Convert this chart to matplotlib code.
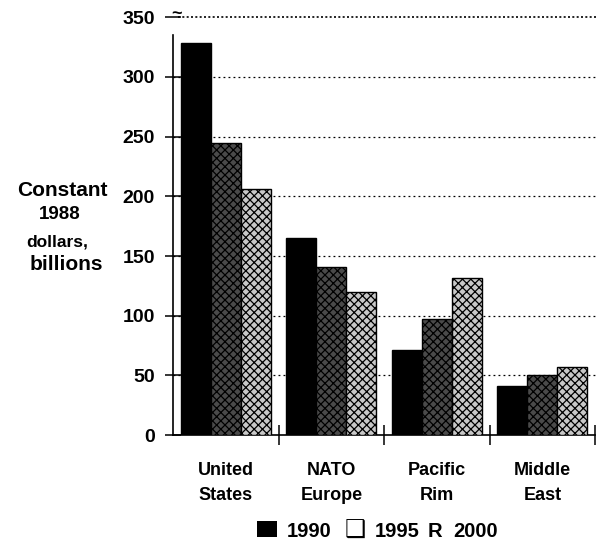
import numpy as np
import matplotlib
matplotlib.use("Agg")
import matplotlib.pyplot as plt
from matplotlib.patches import Rectangle

plt.rcParams['font.family'] = ['Liberation Sans', 'DejaVu Sans']
plt.rcParams['font.weight'] = 'bold'
plt.rcParams['hatch.linewidth'] = 0.9

# Regions and spending (constant 1988 dollars, billions)
regions = ["United\nStates", "NATO\nEurope", "Pacific\nRim", "Middle\nEast"]
years = ["1990", "1995", "2000"]
spend_1990 = [328, 165, 71, 41]
spend_1995 = [245, 141, 97, 50]
spend_2000 = [206, 120, 132, 57]
yticks = [0, 50, 100, 150, 200, 250, 300, 350]

fig = plt.figure(figsize=(5.97, 5.55), dpi=100)
ax = fig.add_axes([0.290, 0.216, 0.707, 0.753])

x = np.arange(len(regions))
w = 0.284
ax.bar(x - w, spend_1990, w, color='black', edgecolor='black', lw=1, zorder=3)
ax.bar(x, spend_1995, w, color='#4a4a4a', edgecolor='black', hatch='xxxx', lw=1, zorder=3)
ax.bar(x + w, spend_2000, w, color='#c8c8c8', edgecolor='black', hatch='xxxx', lw=1, zorder=3)

ax.set_xlim(-0.5, 3.5)
ax.set_ylim(0, 350)

# dotted grid lines
for v in yticks[1:-1]:
    ax.axhline(v, color='black', lw=0.9, ls=(0, (1.5, 2.5)), zorder=1, clip_on=False,
               xmin=0, xmax=1.01)
ax.axhline(350, color='black', lw=1.2, ls=(0, (1.2, 1.4)), xmin=0.012, xmax=1.01,
           zorder=1, clip_on=False)
ax.text(-0.515, 352, "~", ha='left', va='center', fontsize=13, fontweight='bold', clip_on=False)

for s in ['top', 'right']:
    ax.spines[s].set_visible(False)
ax.spines['left'].set_bounds(0, 335)
ax.spines['left'].set_linewidth(1.2)
ax.spines['bottom'].set_linewidth(1.2)

ax.set_yticks(yticks)
ax.set_yticklabels([str(v) for v in yticks], fontsize=14, fontweight='bold')
ax.tick_params(axis='y', direction='inout', length=12, width=1.1, pad=7)

ax.set_xticks([0.5, 1.5, 2.5, 3.5])
ax.set_xticklabels([])
ax.set_xticks(x, minor=True)
ax.set_xticklabels(regions, minor=True, fontsize=13, fontweight='bold', linespacing=1.65)
ax.tick_params(axis='x', which='major', direction='inout', length=14, width=1.1)
ax.tick_params(axis='x', which='minor', length=0, pad=19)

# y-axis title, line by line
for txt, cx, cy, fs in [("Constant", 62, 190, 15), ("1988", 60, 214, 13.5),
                        ("dollars,", 57, 242, 12.5), ("billions", 66, 265, 15)]:
    fig.text(cx / 597, 1 - cy / 555, txt, ha='center', va='center',
             fontsize=fs, fontweight='bold')

# legend row
ly = 1 - 537 / 555
fig.patches.append(Rectangle((257 / 597, ly), 20 / 597, 16 / 555, transform=fig.transFigure,
                             facecolor='black', edgecolor='none'))
fig.text(287 / 597, ly, years[0], ha='left', va='baseline', fontsize=14.5, fontweight='bold')
fig.text(345 / 597, ly - 0.002, "\u2751", ha='left', va='baseline', fontsize=17,
         family='DejaVu Sans')
fig.text(375 / 597, ly, years[1], ha='left', va='baseline', fontsize=14.5, fontweight='bold')
fig.text(428 / 597, ly, "R", ha='left', va='baseline', fontsize=14.5, fontweight='bold')
fig.text(453 / 597, ly, years[2], ha='left', va='baseline', fontsize=14.5, fontweight='bold')

fig.savefig("out.png", dpi=100)
